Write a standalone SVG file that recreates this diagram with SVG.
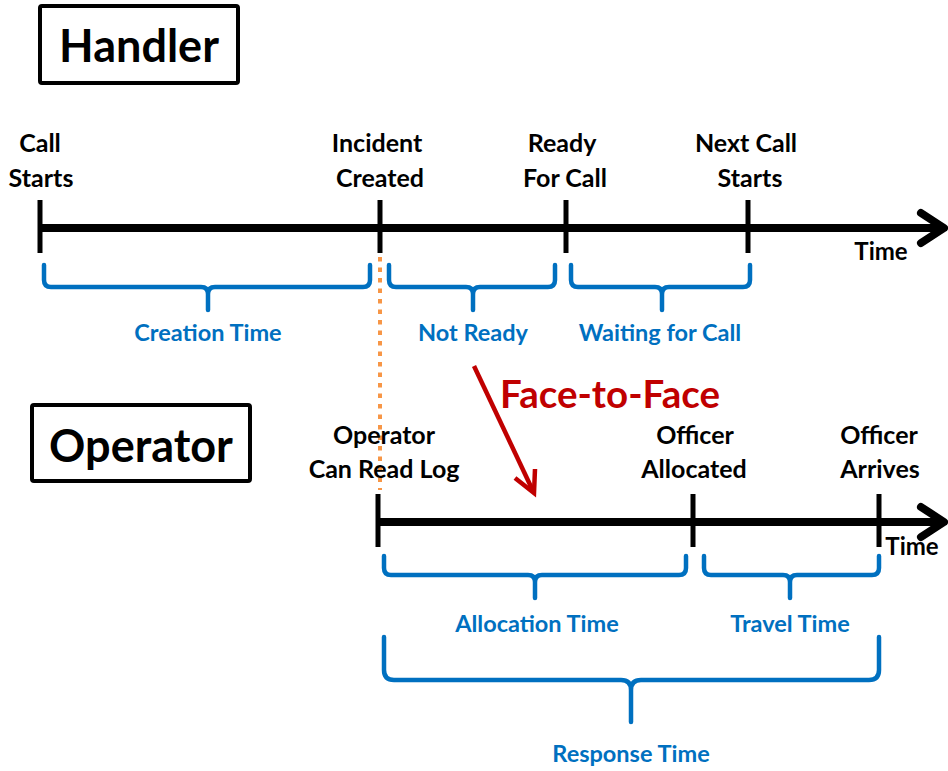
<svg xmlns="http://www.w3.org/2000/svg" width="948" height="771" viewBox="0 0 948 771">
<defs>
<style>
.box{fill:#fff;stroke:#000;stroke-width:4}
.title{font-family:Lato,"Open Sans","Liberation Sans",sans-serif;font-weight:bold;font-size:45px;fill:#000;text-anchor:middle}
.lbl{font-family:Lato,"Open Sans","Liberation Sans",sans-serif;font-weight:bold;font-size:25px;fill:#000;text-anchor:middle}
.blue{font-family:Lato,"Open Sans","Liberation Sans",sans-serif;font-weight:bold;font-size:23.5px;fill:#0070C0;text-anchor:middle}
.red{font-family:Lato,"Open Sans","Liberation Sans",sans-serif;font-weight:bold;font-size:38.5px;fill:#C00000}
.axis{stroke:#000;stroke-width:8;fill:none}
.head{stroke:#000;stroke-width:8;fill:none;stroke-linecap:round;stroke-linejoin:round}
.tick{stroke:#000;stroke-width:5}
.brace{stroke:#0070C0;stroke-width:4.5;fill:none;stroke-linecap:round;stroke-linejoin:round}
.dot{stroke:#F79646;stroke-width:4;stroke-dasharray:4.5 6}
.rarrow{stroke:#C00000;stroke-width:4.5;fill:none}
</style>
</defs>

<g id="handler">
<rect class="box" x="40" y="6" width="198" height="77" rx="2"/>
<text class="title" x="139" y="62">Handler</text>
</g>
<g id="operator">
<rect class="box" x="32" y="405" width="218" height="76" rx="2"/>
<text class="title" x="141" y="462">Operator</text>
</g>

<g id="connectors">
<line class="axis" x1="40" y1="228" x2="940" y2="228"/>
<path class="head" d="M921,213 L944,228 L921,243"/>
<line class="axis" x1="378" y1="522" x2="940" y2="522"/>
<path class="head" d="M921,507 L944,522 L921,537"/>
<line class="tick" x1="40" y1="200" x2="40" y2="253"/>
<line class="tick" x1="380" y1="200" x2="380" y2="253"/>
<line class="tick" x1="566" y1="200" x2="566" y2="253"/>
<line class="tick" x1="748" y1="200" x2="748" y2="253"/>
<line class="tick" x1="378" y1="494" x2="378" y2="547"/>
<line class="tick" x1="693" y1="494" x2="693" y2="547"/>
<line class="tick" x1="879" y1="494" x2="879" y2="547"/>
<line class="dot" x1="380" y1="257" x2="380" y2="490"/>
<path class="rarrow" d="M474,366 L533,491"/>
<path class="rarrow" d="M515,478 L534,493 L535,469"/>
</g>

<g id="braces">
<path class="brace" d="M44,265 L44,280 Q44,287 51,287 L201,287 Q208,287 208,294 L208,310 M208,294 Q208,287 215,287 L363,287 Q370,287 370,280 L370,265"/>
<path class="brace" d="M389,265 L389,280 Q389,287 396,287 L466,287 Q473,287 473,294 L473,310 M473,294 Q473,287 480,287 L548,287 Q555,287 555,280 L555,265"/>
<path class="brace" d="M571,265 L571,280 Q571,287 578,287 L655,287 Q662,287 662,294 L662,310 M662,294 Q662,287 669,287 L743,287 Q750,287 750,280 L750,265"/>
<path class="brace" d="M384,556 L384,568 Q384,575 391,575 L528,575 Q535,575 535,582 L535,598 M535,582 Q535,575 542,575 L679,575 Q686,575 686,568 L686,556"/>
<path class="brace" d="M704,556 L704,568 Q704,575 711,575 L783,575 Q790,575 790,582 L790,598 M790,582 Q790,575 797,575 L872,575 Q879,575 879,568 L879,556"/>
<path class="brace" d="M384,637 L384,670 Q384,680 394,680 L621,680 Q631,680 631,690 L631,722 M631,690 Q631,680 641,680 L869,680 Q879,680 879,670 L879,637"/>
</g>

<g id="labels">
<text class="lbl" x="40" y="152">Call</text>
<text class="lbl" x="41" y="187">Starts</text>
<text class="lbl" x="377" y="152">Incident</text>
<text class="lbl" x="380" y="187">Created</text>
<text class="lbl" x="562" y="152">Ready</text>
<text class="lbl" x="565" y="187">For Call</text>
<text class="lbl" x="746" y="152">Next Call</text>
<text class="lbl" x="750" y="187">Starts</text>
<text class="lbl" x="881" y="260" style="font-size:24px">Time</text>
<text class="lbl" x="384" y="444">Operator</text>
<text class="lbl" x="384" y="478">Can Read Log</text>
<text class="lbl" x="695" y="444">Officer</text>
<text class="lbl" x="694" y="478">Allocated</text>
<text class="lbl" x="879" y="444">Officer</text>
<text class="lbl" x="880" y="478">Arrives</text>
<text class="lbl" x="912" y="555" style="font-size:24px">Time</text>
<text class="red" x="500" y="408">Face-to-Face</text>
<text class="blue" x="208" y="341">Creation Time</text>
<text class="blue" x="473" y="341">Not Ready</text>
<text class="blue" x="660" y="341">Waiting for Call</text>
<text class="blue" x="537" y="632">Allocation Time</text>
<text class="blue" x="790" y="632">Travel Time</text>
<text class="blue" x="631" y="762">Response Time</text>
</g>
</svg>
